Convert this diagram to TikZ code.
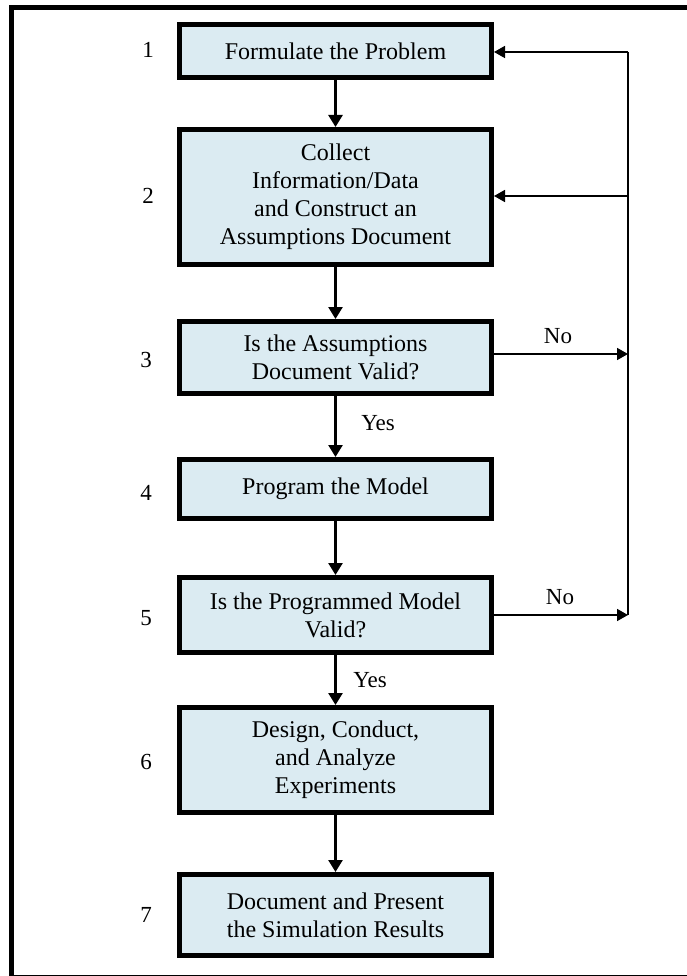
\documentclass[tikz,border=0pt]{standalone}
\usepackage{fontspec}
\setmainfont{Liberation Serif}
\usetikzlibrary{arrows.meta}
\definecolor{boxfill}{RGB}{219,235,242}
\tikzset{
  x=1pt, y=-1pt,
  stepbox/.style={draw=black, fill=boxfill, line width=5pt, rectangle,
    minimum width=312pt, align=center, inner sep=2pt,
    font=\fontsize{24}{28}\selectfont},
  flow/.style={line width=2.6pt, -{Triangle[length=12pt,width=14pt]}},
  loop/.style={line width=1.6pt},
  looparrow/.style={line width=1.6pt, -{Triangle[length=11pt,width=12pt]}},
  lbl/.style={font=\fontsize{23}{28}\selectfont, inner sep=0pt}
}
\begin{document}
\begin{tikzpicture}
\useasboundingbox (0,0) rectangle (687,976);
% outer frame
\draw[line width=5pt] (11.5,7.5) rectangle (700,977.5);

% process boxes
\node[stepbox, minimum height=53pt]  (b1) at (335.5,51)    {Formulate the Problem};
\node[stepbox, minimum height=135pt] (b2) at (335.5,197)   {Collect\\Information/Data\\and Construct an\\Assumptions Document};
\node[stepbox, minimum height=72pt]  (b3) at (335.5,357.5) {Is the Assumptions\\Document Valid?};
\node[stepbox, minimum height=59pt]  (b4) at (335.5,489)   {Program the Model};
\node[stepbox, minimum height=75pt]  (b5) at (335.5,615)   {Is the Programmed Model\\Valid?};
\node[stepbox, minimum height=105pt] (b6) at (335.5,760)   {Design, Conduct,\\and Analyze\\Experiments};
\node[stepbox, minimum height=81pt]  (b7) at (335.5,915)   {Document and Present\\the Simulation Results};

% step numbers
\node[lbl] (n1) at (148,50)  {1};
\node[lbl] (n2) at (148,196) {2};
\node[lbl] (n3) at (146,360) {3};
\node[lbl] (n4) at (146,493) {4};
\node[lbl] (n5) at (146,618) {5};
\node[lbl] (n6) at (146,762) {6};
\node[lbl] (n7) at (146,915) {7};

% main flow
\draw[flow] (b1.south) -- (b2.north);
\draw[flow] (b2.south) -- (b3.north);
\draw[flow] (b3.south) -- (b4.north);
\draw[flow] (b4.south) -- (b5.north);
\draw[flow] (b5.south) -- (b6.north);
\draw[flow] (b6.south) -- (b7.north);

\node[lbl] (y1) at (378,423) {Yes};
\node[lbl] (y2) at (370,680) {Yes};

% feedback loop
\coordinate (fbtop) at (628,52);
\coordinate (fbmid) at (628,196);
\coordinate (fbno1) at (628,354);
\coordinate (fbno2) at (628,615);

\draw[loop] (fbtop) -- (fbno2);
\draw[looparrow] (fbtop) -- (b1.east |- fbtop);
\draw[looparrow] (fbmid) -- (b2.east |- fbmid);
\draw[looparrow] (b3.east |- fbno1) -- (fbno1);
\draw[looparrow] (b5.east |- fbno2) -- (fbno2);

\node[lbl] (no1) at (558,336) {No};
\node[lbl] (no2) at (560,597) {No};
\end{tikzpicture}
\end{document}
